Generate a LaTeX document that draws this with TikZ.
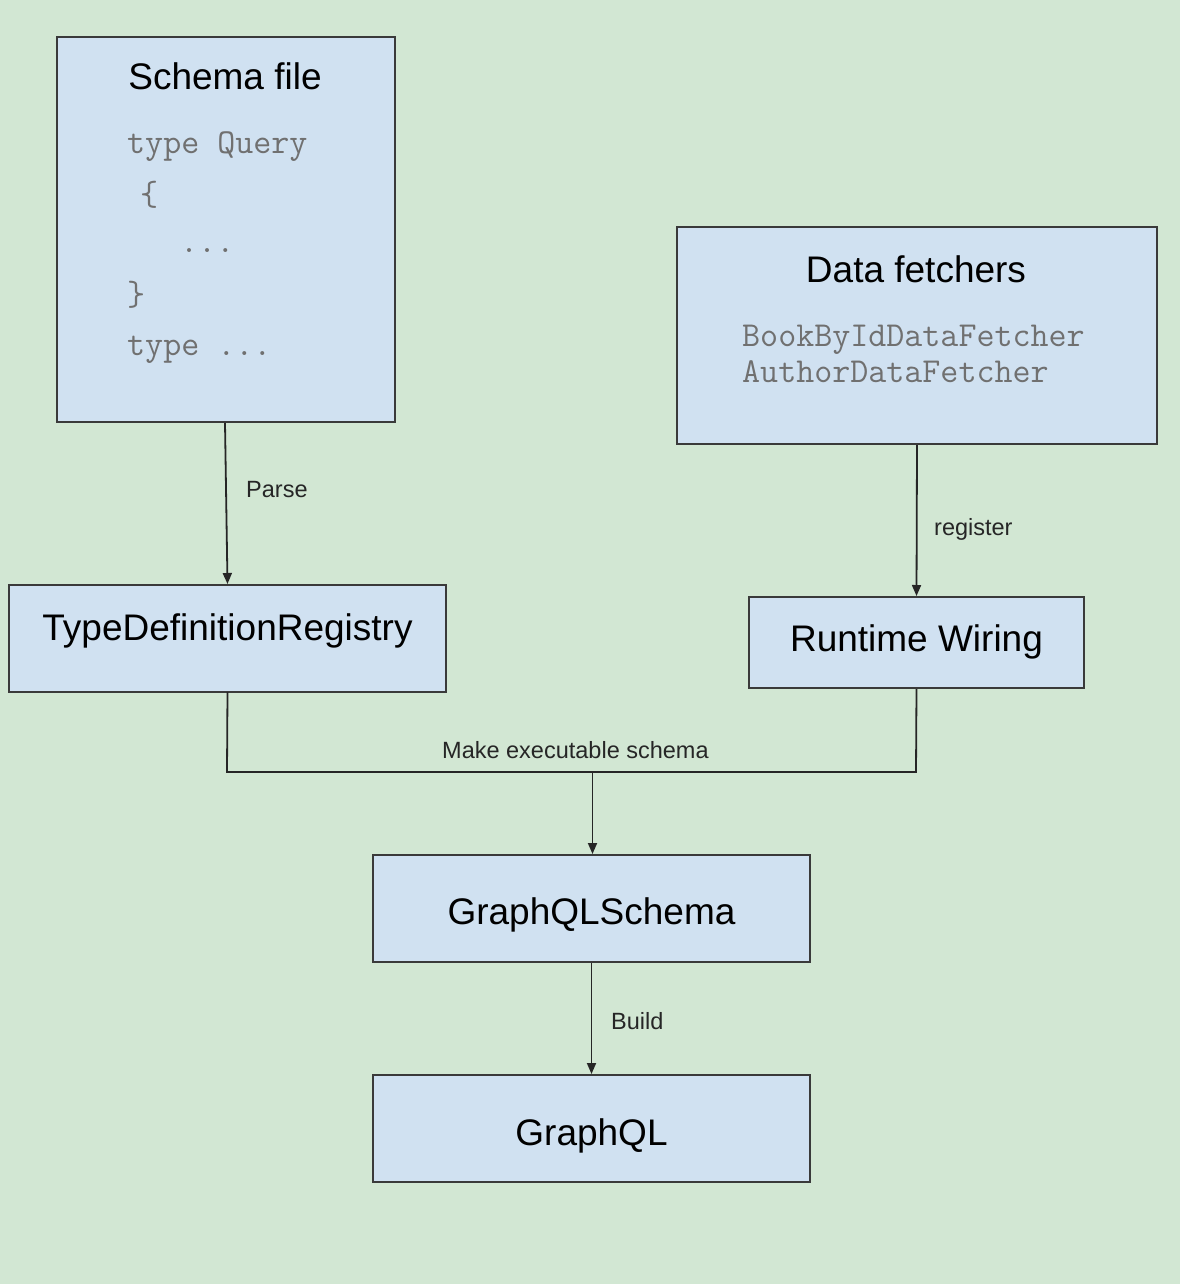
\documentclass[tikz,border=0pt]{standalone}
\usepackage{fontspec}
\setmainfont{Liberation Sans}
\usetikzlibrary{arrows.meta}
\definecolor{bggreen}{HTML}{D2E7D3}
\definecolor{boxblue}{HTML}{D0E1F1}
\definecolor{boxline}{HTML}{3A3A3A}
\definecolor{codegray}{HTML}{707070}
\tikzset{
  box/.style={draw=boxline, fill=boxblue, line width=2pt, inner sep=0pt},
  title/.style={font=\fontsize{37}{40}\selectfont, text=black, inner sep=0pt, anchor=base},
  code/.style={font=\ttfamily\fontsize{35}{36}\selectfont, text=codegray, inner sep=0pt, anchor=base west},
  lab/.style={font=\fontsize{23.5}{26}\selectfont, text=black!85, inner sep=0pt, anchor=base west},
  conn/.style={draw=black!85, line width=1.8pt},
  arr/.style={conn, -{Triangle[length=11pt,width=9pt]}, shorten >=0pt},
}
\begin{document}
\begin{tikzpicture}[x=1pt,y=-1pt]
\useasboundingbox[fill=bggreen] (0,0) rectangle (1180,1284);
% boxes
\node[box, minimum width=338pt, minimum height=385pt] (schema) at (226,229.5) {};
\node[box, minimum width=480pt, minimum height=217pt] (fetch) at (917,335.5) {};
\node[box, minimum width=437pt, minimum height=107pt] (tdr) at (227.5,638.5) {};
\node[box, minimum width=335pt, minimum height=91pt] (wiring) at (916.5,642.5) {};
\node[box, minimum width=437pt, minimum height=107pt] (gqls) at (591.5,908.5) {};
\node[box, minimum width=437pt, minimum height=107pt] (gql) at (591.5,1128.5) {};
% texts
\node[title] (t1) at (225,90) {Schema file};
\node[code] (c1) at (127,154) {type Query};
\node[code] (c2) at (140,205) {\{};
\node[code] (c3) at (180,252) {...};
\node[code] (c4) at (127,305) {\}};
\node[code] (c5) at (127,355) {type ...};
\node[title] (t2) at (916,282) {Data fetchers};
\node[code] (c6) at (742,346) {BookByIdDataFetcher};
\node[code] (c7) at (742,382) {AuthorDataFetcher};
\node[title] (t3) at (227.5,640) {TypeDefinitionRegistry};
\node[title] (t4) at (916.5,651) {Runtime Wiring};
\node[title] (t5) at (591.5,924) {GraphQLSchema};
\node[title] (t6) at (591.5,1145) {GraphQL};
% connectors
\coordinate (sb) at (225,422);
\draw[arr] (schema.south -| sb) -- (tdr.north);
\node[lab] (lparse) at (246,497) {Parse};
\draw[arr] (fetch.south) -- (wiring.north);
\node[lab] (lreg) at (934,535) {register};
\coordinate (jl) at (227,772);
\coordinate (jr) at (916,772);
\coordinate (jm) at (592.5,772);
\draw[conn] (tdr.south |- 0,692) -- (jl) -- (jr) -- (wiring.south);
\draw[arr] (jm) -- (gqls.north -| jm);
\node[lab] (lmake) at (442,758) {Make executable schema};
\draw[arr] (gqls.south) -- (gql.north);
\node[lab] (lbuild) at (611,1029) {Build};
\end{tikzpicture}
\end{document}
